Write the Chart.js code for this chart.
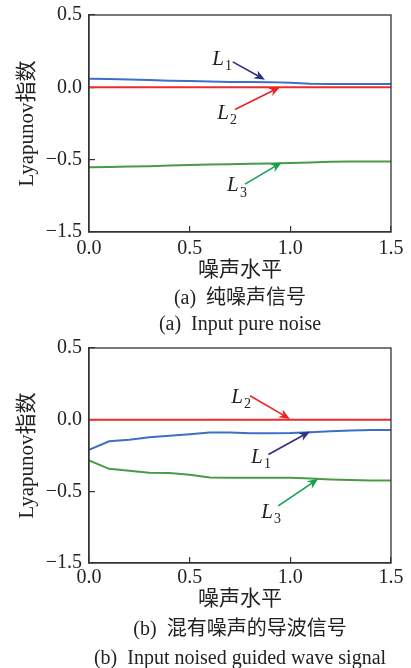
<!DOCTYPE html>
<html>
<head>
<meta charset="utf-8">
<script src="https://cdn.jsdelivr.net/npm/chart.js@4.4.1/dist/chart.umd.min.js"></script>
<style>
  html, body { margin: 0; padding: 0; background: #fff; }
  body { width: 411px; height: 668px; position: relative; overflow: hidden;
         font-family: 'Liberation Serif', 'Noto Sans CJK SC', serif; color: #222; }
  .box { position: absolute; left: 0; width: 411px; }
  .cap { position: absolute; left: 40px; width: 400px; text-align: center;
         font-size: 20px; line-height: 24px; white-space: pre; }
</style>
</head>
<body>
<div class="box" style="top:1px;height:290px"><canvas id="chartA" width="411" height="290"></canvas></div>
<div class="cap" style="top:285px">(a)  纯噪声信号</div>
<div class="cap" style="top:311px">(a)  Input pure noise</div>
<div class="box" style="top:334px;height:288px"><canvas id="chartB" width="411" height="288"></canvas></div>
<div class="cap" style="top:616px">(b)  混有噪声的导波信号</div>
<div class="cap" style="top:645px">(b)  Input noised guided wave signal</div>
<script>
// 噪声水平 (x)
const noiseLevels = [0, 0.1, 0.2, 0.3, 0.4, 0.5, 0.6, 0.7, 0.8, 0.9, 1.0, 1.1, 1.2, 1.3, 1.4, 1.5];

// (a) 纯噪声信号
const l1A = [0.060, 0.057, 0.054, 0.050, 0.046, 0.044, 0.040, 0.037, 0.037, 0.036, 0.031, 0.025, 0.023, 0.023, 0.023, 0.023];
const l2A = [0, 0, 0, 0, 0, 0, 0, 0, 0, 0, 0, 0, 0, 0, 0, 0];
const l3A = [-0.553, -0.551, -0.548, -0.545, -0.541, -0.537, -0.534, -0.531, -0.528, -0.526, -0.523, -0.519, -0.515, -0.513, -0.512, -0.512];

// (b) 混有噪声的导波信号
const l1B = [-0.210, -0.151, -0.140, -0.123, -0.112, -0.101, -0.090, -0.090, -0.095, -0.094, -0.093, -0.087, -0.081, -0.076, -0.072, -0.072];
const l2B = [0, 0, 0, 0, 0, 0, 0, 0, 0, 0, 0, 0, 0, 0, 0, 0];
const l3B = [-0.285, -0.343, -0.356, -0.370, -0.372, -0.385, -0.403, -0.405, -0.405, -0.405, -0.405, -0.410, -0.417, -0.421, -0.424, -0.424];

// 坐标轴刻度 (y 轴最下面的刻度标为 -1.5)
const xTickValues = [0, 0.5, 1.0, 1.5];
const xTickLabels = ['0.0', '0.5', '1.0', '1.5'];
const yTickValues = [-1, -0.5, 0, 0.5];
const yTickLabels = ['\u22121.5', '\u22120.5', '0.0', '0.5'];

// 标注: 下标, 文字位置, 箭头起点和终点 (数据坐标)
const notesA = [
  { sub: '1', label: [0.641, 0.194], from: [0.714, 0.176], to: [0.874, 0.053] },
  { sub: '2', label: [0.666, -0.181], from: [0.725, -0.153], to: [0.949, 0.002] },
  { sub: '3', label: [0.715, -0.681], from: [0.775, -0.669], to: [0.957, -0.519] }
];
const notesB = [
  { sub: '2', label: [0.735, 0.153], from: [0.800, 0.167], to: [0.998, 0.005] },
  { sub: '1', label: [0.834, -0.264], from: [0.891, -0.243], to: [1.098, -0.083] },
  { sub: '3', label: [0.884, -0.646], from: [0.940, -0.602], to: [1.139, -0.412] }
];

const lineColors = { L1: '#3d6fc5', L2: '#ee2b2b', L3: '#4a9a46' };
const arrowColors = { '1': '#2e2e8e', '2': '#ee2222', '3': '#12a04e' };

const tickFont = { family: 'Liberation Serif', size: 20 };
const titleFont = { family: "'Liberation Serif', 'Noto Sans CJK SC'", size: 21 };

function drawArrow(ctx, x1, y1, x2, y2, color) {
  const a = Math.atan2(y2 - y1, x2 - x1);
  const hl = 11, hw = 4.5;
  const c = Math.cos(a), s = Math.sin(a);
  ctx.strokeStyle = color;
  ctx.fillStyle = color;
  ctx.lineWidth = 1.6;
  ctx.beginPath();
  ctx.moveTo(x1, y1);
  ctx.lineTo(x2 - hl * c * 0.7, y2 - hl * s * 0.7);
  ctx.stroke();
  ctx.beginPath();
  ctx.moveTo(x2, y2);
  ctx.lineTo(x2 - hl * c + hw * s, y2 - hl * s - hw * c);
  ctx.lineTo(x2 - hl * 0.7 * c, y2 - hl * 0.7 * s);
  ctx.lineTo(x2 - hl * c - hw * s, y2 - hl * s + hw * c);
  ctx.closePath();
  ctx.fill();
}

// 边框和箭头标注
const framePlugin = {
  id: 'frameNotes',
  afterDatasetsDraw(chart, args, opts) {
    const { ctx, chartArea: area, scales: { x, y } } = chart;
    ctx.save();
    ctx.strokeStyle = '#333';
    ctx.lineWidth = 1.3;
    ctx.strokeRect(area.left, area.top, area.right - area.left, area.bottom - area.top);

    (opts.items || []).forEach(n => {
      const color = arrowColors[n.sub];
      drawArrow(ctx,
        x.getPixelForValue(n.from[0]), y.getPixelForValue(n.from[1]),
        x.getPixelForValue(n.to[0]), y.getPixelForValue(n.to[1]), color);
      const lx = x.getPixelForValue(n.label[0]);
      const ly = y.getPixelForValue(n.label[1]);
      ctx.fillStyle = '#222';
      ctx.textBaseline = 'middle';
      ctx.textAlign = 'center';
      ctx.font = 'italic 21px "Liberation Serif"';
      ctx.fillText('L', lx, ly);
      ctx.textAlign = 'left';
      ctx.font = '14px "Liberation Serif"';
      ctx.fillText(n.sub, lx + 7, ly + 7);
    });
    ctx.restore();
  }
};

function series(ys, color) {
  return {
    data: noiseLevels.map((v, i) => ({ x: v, y: ys[i] })),
    borderColor: color,
    borderWidth: 2,
    pointRadius: 0,
    tension: 0,
    fill: false
  };
}

function makeChart(id, l1, l2, l3, notes, tickPad, titlePad) {
  const ctx = document.getElementById(id).getContext('2d');
  return new Chart(ctx, {
    type: 'line',
    data: {
      datasets: [series(l2, lineColors.L2), series(l3, lineColors.L3), series(l1, lineColors.L1)]
    },
    options: {
      responsive: false,
      animation: false,
      layout: { padding: { top: 14, right: 20, left: 0, bottom: 0 } },
      plugins: {
        legend: { display: false },
        tooltip: { enabled: false },
        frameNotes: { items: notes }
      },
      scales: {
        x: {
          type: 'linear', min: 0, max: 1.5,
          afterBuildTicks: s => { s.ticks = xTickValues.map(v => ({ value: v })); },
          ticks: {
            color: '#222', font: tickFont, padding: tickPad, maxRotation: 0,
            callback: v => xTickLabels[xTickValues.indexOf(v)]
          },
          grid: { drawOnChartArea: false, drawTicks: true, tickLength: -6, color: '#333', lineWidth: 1.2 },
          border: { color: '#333', width: 1.3 },
          title: { display: true, text: '噪声水平', color: '#222', font: titleFont, padding: { top: 0, bottom: titlePad } },
          afterFit: s => { s.height = 59; s.paddingLeft = 0; s.paddingRight = 0; }
        },
        y: {
          type: 'linear', min: -1, max: 0.5,
          afterBuildTicks: s => { s.ticks = yTickValues.map(v => ({ value: v })); },
          ticks: {
            color: '#222', font: tickFont, padding: 13,
            callback: v => yTickLabels[yTickValues.indexOf(v)]
          },
          grid: { drawOnChartArea: false, drawTicks: true, tickLength: -6, color: '#333', lineWidth: 1.2 },
          border: { color: '#333', width: 1.3 },
          title: { display: true, text: 'Lyapunov指数', color: '#222', font: titleFont, padding: { top: 15, bottom: 0 } },
          afterFit: s => { s.width = 89; s.paddingTop = 0; s.paddingBottom = 0; }
        }
      }
    },
    plugins: [framePlugin]
  });
}

makeChart('chartA', l1A, l2A, l3A, notesA, 11, 8);
makeChart('chartB', l1B, l2B, l3B, notesB, 9, 10);
</script>
</body>
</html>
